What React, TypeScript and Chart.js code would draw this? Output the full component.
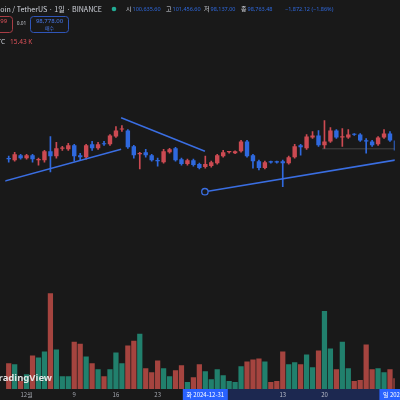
import React, { useEffect, useRef } from "react";
import { Chart, registerables } from "chart.js";

Chart.register(...registerables);

// Daily BTC/USDT candles, index 0 = 2024-11-28 ... index 66 = 2025-02-02
const opens = [
  98000, 97610, 99140, 98220, 99140, 97610, 97610, 100370, 98840, 101200,
  100990, 102220, 99140, 98530, 102530, 101300, 102830, 102530, 104990, 107140,
  106830, 101910, 99450, 100070, 99140, 97610, 96990, 100070, 101300, 97910,
  96380, 97610, 96380, 95450, 95760, 96680, 98840, 100070, 99760, 100370,
  103450, 99140, 97300, 95140, 96990, 96990, 97300, 96680, 98530, 102220,
  101300, 104680, 105300, 102220, 103450, 106830, 104680, 104680, 105600, 105600,
  103760, 103450, 102530, 104680, 105910, 103760, 100635.6,
];
const highs = [
  98840, 100070, 99450, 99450, 99450, 98220, 100680, 104990, 103140, 101910,
  102830, 102530, 99760, 102530, 103450, 103140, 103450, 105600, 108060, 108370,
  107140, 102220, 100070, 100990, 99450, 98220, 100990, 101300, 101600, 98220,
  97910, 97910, 96680, 98840, 97300, 99450, 100680, 100370, 100500, 103760,
  103760, 99450, 97610, 97300, 97300, 97300, 97610, 98840, 102530, 102530,
  105600, 106530, 106830, 109910, 107760, 107140, 107450, 107140, 105910, 105910,
  104370, 103760, 104990, 107140, 106530, 104060, 101456.6,
];
const lows = [
  96990, 97300, 97910, 97910, 96990, 96070, 96990, 93910, 98220, 100680,
  100680, 97300, 97610, 97910, 100680, 100990, 102220, 102220, 104680, 106530,
  101300, 98220, 94840, 98530, 97300, 95760, 96680, 99760, 97300, 96070,
  96070, 95760, 94840, 95140, 95450, 96380, 98530, 99760, 99600, 100070,
  98530, 95140, 94530, 94840, 96680, 96680, 89300, 96380, 98220, 99140,
  100990, 104370, 101910, 101300, 103140, 104370, 101910, 104370, 105300, 103450,
  99760, 101910, 102220, 104370, 103450, 100370, 98137,
];
const closes = [
  97910, 99450, 98220, 99140, 97910, 97910, 100370, 98840, 101300, 101300,
  102220, 98840, 98530, 102220, 101300, 102530, 102530, 105300, 106830, 107300,
  101600, 99140, 99760, 99140, 97610, 97300, 100370, 100990, 97610, 96380,
  97610, 96070, 95140, 96380, 96990, 99140, 100070, 100200, 100370, 103450,
  98840, 97300, 95140, 96990, 96900, 96900, 96680, 98530, 101910, 101600,
  104990, 105300, 102220, 103450, 106830, 104680, 104990, 105600, 105500, 103760,
  103450, 102220, 104680, 105910, 103760, 100635.6, 98763.48,
];
// Volume in thousands of BTC
const volumes = [
  36.4, 35, 11.2, 21, 47.6, 44.8, 53.2, 135.8, 56, 18.2,
  18.2, 67.2, 64.4, 46.2, 36.4, 28, 18.2, 28, 51.8, 36.4,
  61.6, 68.6, 78.4, 29.4, 23.8, 40.6, 29.4, 18.2, 26.6, 33.6,
  9.8, 16.8, 35, 25.2, 14, 28, 19.6, 11.2, 9.8, 32.2,
  39.2, 42, 43.4, 39.2, 9.8, 11.2, 53.2, 35, 37.8, 35,
  49, 30.8, 54.6, 110.6, 57.4, 28, 67.2, 29.4, 11.2, 12.6,
  63, 28, 29.4, 23.8, 28, 15.4, 15.43,
];

// Time-axis labels (index into the candle arrays)
const tickIndex = [3, 11, 18, 25, 46, 53];
const tickLabels = ["12월", "9", "16", "23", "13", "20"];
const rangeIndex = [33, 66];
const rangeLabels = ["화 2024-12-31", "일 2025-02-02"];

// Drawn trend lines (x = candle index, y = price)
const trendA = [{ x: -2.07, y: 90377 }, { x: 18.87, y: 100989 }];
const trendB = [{ x: 18.87, y: 110832 }, { x: 32.93, y: 100374 }];
const trendC = [{ x: 32.93, y: 87762 }, { x: 66, y: 97974 }];
const levelLine = [{ x: 52.6, y: 101143 }, { x: 66, y: 101143 }];

// Header texts
const symbolTitle = "Bitcoin / TetherUS · 1일 · BINANCE";
const ohlcLabels = ["시", "고", "저", "종"];
const ohlcValues = ["100,635.60", "101,456.60", "98,137.00", "98,763.48"];
const changeText = "−1,872.12 (−1.86%)";
const sellPrice = "98,777.99";
const buyPrice = "98,778.00";
const spreadText = "0.01";
const volTitle = "Vol · BTC";
const volValue = "15.43 K";

const BG = "#191919";
const UP = "#cc4a52";
const DOWN = "#2f69de";
const VOL_UP = "#21806d";
const VOL_DOWN = "#a5443f";
const LINE = "#3a6ee2";
const FONT = '"Noto Sans", "Noto Sans CJK KR", sans-serif';
const KFONT = '"Noto Sans CJK KR", "Noto Sans", sans-serif';

const bgPlugin = {
  id: "bg",
  beforeDraw(chart: any) {
    const ctx = chart.ctx;
    ctx.save();
    ctx.fillStyle = BG;
    ctx.fillRect(0, 0, chart.width, chart.height);
    ctx.restore();
  },
};

function roundRect(ctx: any, x: number, y: number, w: number, h: number, r: number) {
  ctx.beginPath();
  ctx.moveTo(x + r, y);
  ctx.lineTo(x + w - r, y);
  ctx.quadraticCurveTo(x + w, y, x + w, y + r);
  ctx.lineTo(x + w, y + h - r);
  ctx.quadraticCurveTo(x + w, y + h, x + w - r, y + h);
  ctx.lineTo(x + r, y + h);
  ctx.quadraticCurveTo(x, y + h, x, y + h - r);
  ctx.lineTo(x, y + r);
  ctx.quadraticCurveTo(x, y, x + r, y);
  ctx.closePath();
}

const overlayPlugin = {
  id: "overlay",
  afterDraw(chart: any) {
    const ctx = chart.ctx;
    const xs = chart.scales.x;
    const area = chart.chartArea;
    ctx.save();

    // watermark
    ctx.font = `bold 9.5px ${FONT}`;
    ctx.textAlign = "right";
    ctx.textBaseline = "middle";
    ctx.fillStyle = "rgba(235,235,235,0.95)";
    ctx.fillText("TradingView", 52, 378);

    // time axis band
    const top = area.bottom;
    const h = chart.height - top;
    const xa = xs.getPixelForValue(rangeIndex[0]);
    const xb = xs.getPixelForValue(rangeIndex[1]);
    ctx.fillStyle = "#1c2850";
    ctx.fillRect(xa, top, xb - xa, h);
    ctx.font = `6px ${KFONT}`;
    ctx.textAlign = "center";
    ctx.textBaseline = "middle";
    tickIndex.forEach((t, k) => {
      const px = xs.getPixelForValue(t);
      ctx.fillStyle = px > xa && px < xb ? "#b8bcc8" : "#a0a3ab";
      ctx.fillText(tickLabels[k], px, top + h / 2 + 0.5);
    });
    rangeIndex.forEach((t, k) => {
      const cx = xs.getPixelForValue(t);
      ctx.fillStyle = "#2962ff";
      ctx.fillRect(cx - 22.5, top, 45, h);
      ctx.fillStyle = "#ffffff";
      ctx.fillText(rangeLabels[k], cx, top + h / 2 + 0.5);
    });

    // header row 1
    ctx.textBaseline = "middle";
    ctx.textAlign = "right";
    ctx.font = `7.1px ${KFONT}`;
    ctx.fillStyle = "#d1d4dc";
    ctx.fillText(symbolTitle, 102, 9);
    ctx.beginPath();
    ctx.arc(114, 9, 2.3, 0, Math.PI * 2);
    ctx.fillStyle = "#22ab94";
    ctx.fill();
    const lx = [126, 166, 204, 241];
    ctx.textAlign = "left";
    ohlcLabels.forEach((l, k) => {
      ctx.font = `6px ${KFONT}`;
      ctx.fillStyle = "#d1d4dc";
      ctx.fillText(l, lx[k], 9);
      ctx.font = `5.5px ${FONT}`;
      ctx.fillStyle = DOWN;
      ctx.fillText(ohlcValues[k], lx[k] + 6.5, 9);
    });
    ctx.fillText(changeText, 285, 9);

    // header row 2: sell / buy boxes
    ctx.lineWidth = 1;
    roundRect(ctx, -25.5, 16.5, 38, 16, 3);
    ctx.strokeStyle = "#a83c44";
    ctx.stroke();
    roundRect(ctx, 30.5, 16.5, 38, 16, 3);
    ctx.strokeStyle = "#2f55b8";
    ctx.stroke();
    ctx.textAlign = "center";
    ctx.font = `6px ${FONT}`;
    ctx.fillStyle = "#e0525a";
    ctx.fillText(sellPrice, -6.5, 21.5);
    ctx.font = `5px ${KFONT}`;
    ctx.fillText("매도", -6.5, 28);
    ctx.font = `6px ${FONT}`;
    ctx.fillStyle = "#4a7cf0";
    ctx.fillText(buyPrice, 49.5, 21.5);
    ctx.font = `5px ${KFONT}`;
    ctx.fillStyle = "#4a7cf0";
    ctx.fillText("매수", 49.5, 28);
    ctx.font = `4.8px ${FONT}`;
    ctx.fillStyle = "#c0c3cb";
    ctx.fillText(spreadText, 21.5, 24);

    // header row 3: volume
    ctx.textAlign = "right";
    ctx.font = `6.5px ${FONT}`;
    ctx.fillStyle = "#d1d4dc";
    ctx.fillText(volTitle, 5, 42);
    ctx.textAlign = "left";
    ctx.fillStyle = "#e0525a";
    ctx.fillText(volValue, 10, 42);

    ctx.restore();
  },
};

export default function App() {
  const ref = useRef<HTMLCanvasElement>(null);

  useEffect(() => {
    const canvas = ref.current;
    if (!canvas) return;
    const idx = opens.map((_, i) => i);
    const isUp = idx.map((i) => closes[i] >= opens[i]);
    const candleColor = idx.map((i) => (isUp[i] ? UP : DOWN));
    const volColor = idx.map((i) => (isUp[i] ? VOL_UP : VOL_DOWN));

    const lineDs = (data: any[], extra: any = {}) => ({
      type: "line" as const,
      data,
      xAxisID: "x",
      yAxisID: "yP",
      borderColor: LINE,
      borderWidth: 1.5,
      pointRadius: 0,
      fill: false,
      tension: 0,
      order: 0,
      ...extra,
    });

    const chart = new Chart(canvas, {
      type: "bar",
      data: {
        datasets: [
          lineDs(trendA),
          lineDs(trendB),
          lineDs(trendC, {
            pointRadius: [3.2, 0],
            pointBorderColor: LINE,
            pointBackgroundColor: BG,
            pointBorderWidth: 1.3,
          }),
          lineDs(levelLine, { borderColor: "rgba(120,120,120,0.45)", borderWidth: 1, order: 1 }),
          {
            type: "bar",
            data: idx.map((i) => ({ x: i, y: [Math.min(opens[i], closes[i]), Math.max(opens[i], closes[i])] })),
            backgroundColor: candleColor,
            xAxisID: "x",
            yAxisID: "yP",
            grouped: false,
            categoryPercentage: 1,
            barPercentage: 0.74,
            minBarLength: 1.2,
            order: 2,
          } as any,
          {
            type: "bar",
            data: idx.map((i) => ({ x: i, y: [lows[i], highs[i]] })),
            backgroundColor: candleColor,
            xAxisID: "x",
            yAxisID: "yP",
            grouped: false,
            barThickness: 1,
            order: 3,
          } as any,
          {
            type: "bar",
            data: idx.map((i) => ({ x: i, y: volumes[i] })),
            backgroundColor: volColor,
            xAxisID: "x",
            yAxisID: "yV",
            grouped: false,
            categoryPercentage: 1,
            barPercentage: 0.88,
            order: 4,
          } as any,
        ],
      },
      options: {
        animation: false,
        responsive: false,
        maintainAspectRatio: false,
        devicePixelRatio: 1,
        events: [],
        layout: { padding: { left: 0, right: 0, top: 0, bottom: 11 } },
        plugins: { legend: { display: false }, tooltip: { enabled: false } },
        scales: {
          x: { type: "linear", min: -0.572, max: 64.79, offset: false, display: false },
          y: { display: false },
          yP: { type: "linear", position: "right", min: 26242, max: 145898, display: false },
          yV: { type: "linear", position: "right", min: 0, max: 544.6, display: false },
        },
      } as any,
      plugins: [bgPlugin, overlayPlugin],
    });
    return () => chart.destroy();
  }, []);

  return (
    <div style={{ position: "absolute", left: 0, top: 0, width: 400, height: 400, background: BG }}>
      <canvas ref={ref} width={400} height={400} style={{ display: "block", width: 400, height: 400 }} />
    </div>
  );
}
